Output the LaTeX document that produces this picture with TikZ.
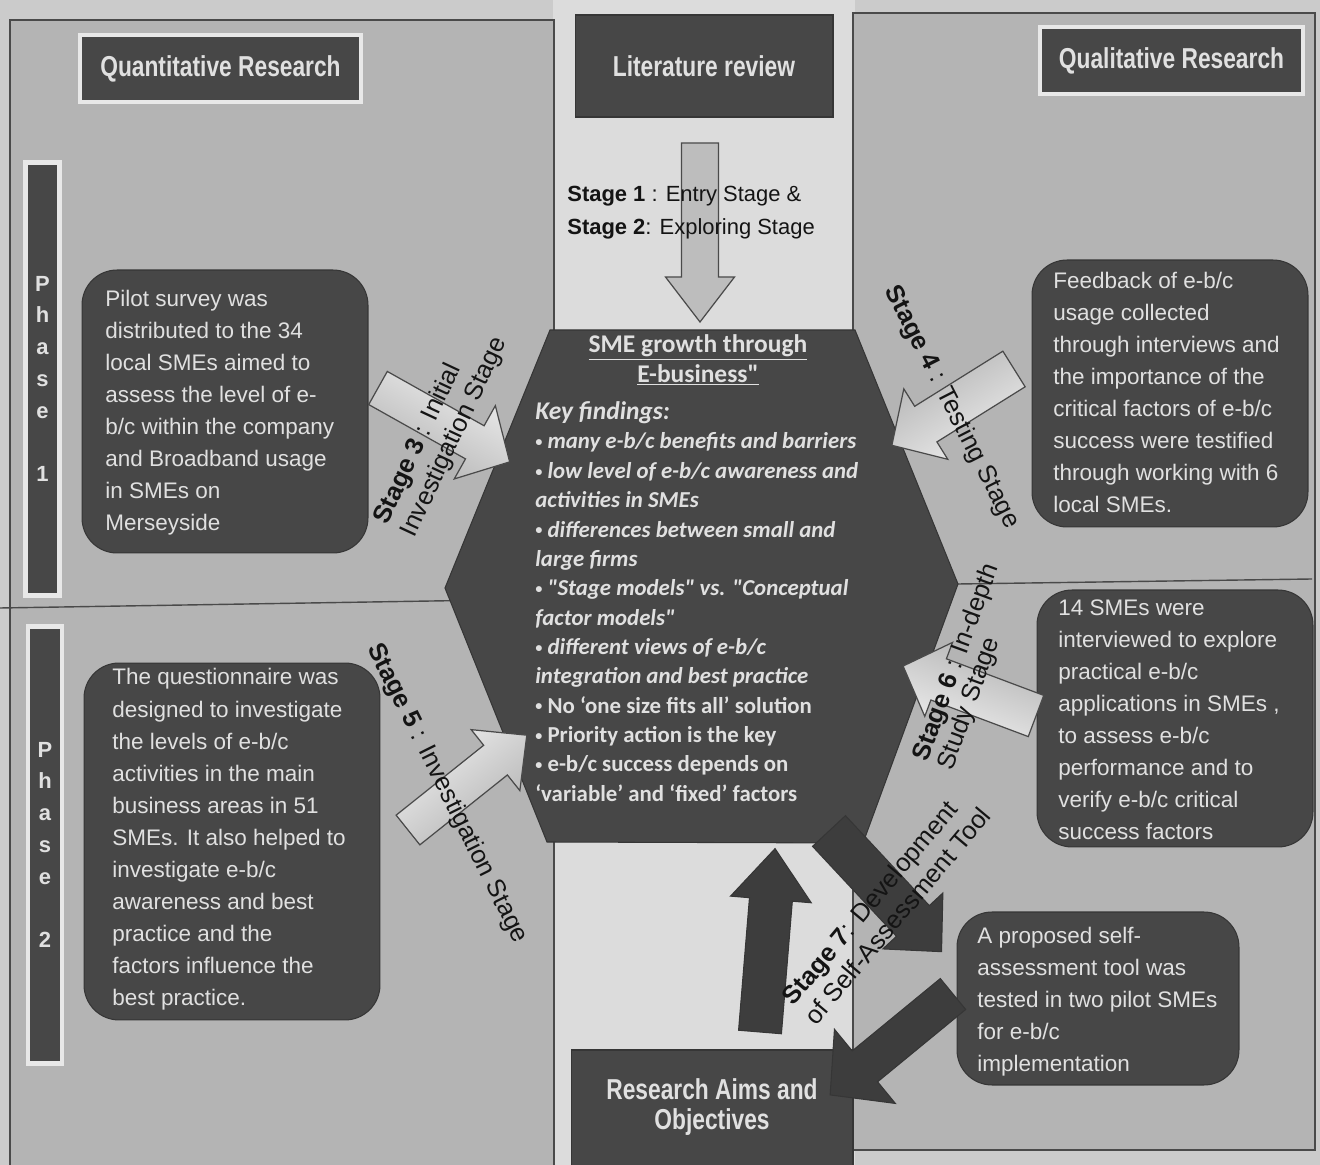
\documentclass[tikz,border=0pt]{standalone}
\usepackage{fontspec}
\setmainfont{Liberation Sans}
\newfontfamily\narrowfont[FakeStretch=0.79]{Liberation Sans}
\newfontfamily\hexfont{Carlito}
\usetikzlibrary{calc}

\definecolor{outerbg}{HTML}{CBCBCB}
\definecolor{midbg}{HTML}{DCDCDC}
\definecolor{panelbg}{HTML}{B4B4B4}
\definecolor{rule}{HTML}{4A4A4A}
\definecolor{boxfill}{HTML}{474747}
\definecolor{boxedge}{HTML}{363636}
\definecolor{boxtext}{HTML}{E0E0E0}
\definecolor{frameline}{HTML}{E8E8E8}
\definecolor{arrowdark}{HTML}{3D3D3D}
\definecolor{arrowtail}{HTML}{EEEEEE}
\definecolor{arrowhead}{HTML}{B2B2B2}
\definecolor{arrowmid}{HTML}{BDBDBD}
\definecolor{ink}{HTML}{141414}

% small bullet used in the list of findings
\newcommand\dotmark{{\fontsize{8}{8}\selectfont\raisebox{0.15em}{•}}}

\tikzset{
  pics/blockarrow/.style n args={4}{code={%
    \path[pic actions] (0,-#2/2) -- ({#1-#4},-#2/2) -- ({#1-#4},-#3/2) -- (#1,0)
      -- ({#1-#4},#3/2) -- ({#1-#4},#2/2) -- (0,#2/2) -- cycle;}},
  titlebox/.style={fill=boxfill, draw=frameline, line width=2.6pt, text=boxtext,
    font=\narrowfont\bfseries\fontsize{16.4}{19.5}\selectfont, align=center, inner sep=0pt},
  headbox/.style={fill=boxfill, draw=boxedge, line width=0.6pt, text=boxtext,
    font=\narrowfont\bfseries\fontsize{16.4}{17.5}\selectfont, align=center, inner sep=0pt},
  phasebar/.style={fill=boxfill, draw=frameline, line width=2.6pt, text=boxtext,
    font=\bfseries\fontsize{12.5}{18.1}\selectfont, align=center, inner sep=0pt},
  notebox/.style={fill=boxfill, draw=boxedge, line width=0.6pt, rounded corners=0.7cm, inner sep=0pt},
  notetext/.style={text=boxtext, font=\fontsize{12.8}{18.25}\selectfont, align=left,
    anchor=west, inner sep=0pt},
  stagelabel/.style={text=ink, font=\fontsize{14.5}{17}\selectfont, align=left, inner sep=0pt},
  lightarrow/.style={left color=arrowtail, right color=arrowhead, shading angle=#1,
    draw=rule, line width=0.7pt},
  midarrow/.style={fill=arrowmid, draw=rule, line width=0.7pt},
  darkarrow/.style={fill=arrowdark, draw=boxedge, line width=0.6pt},
}

\begin{document}
\begin{tikzpicture}[x=0.02cm, y=-0.02cm]
\useasboundingbox (0,0) rectangle (1320,1165);

% backgrounds and the two research panels
\fill[outerbg] (0,0) rectangle (1320,1165);
\fill[midbg] (553,0) rectangle (855,1165);
\filldraw[fill=panelbg, draw=rule, line width=0.6pt] (10,20) rectangle (554,1175);
\filldraw[fill=panelbg, draw=rule, line width=0.6pt] (853,13) rectangle (1315,1150);
\draw[rule, line width=0.8pt] (0,608) -- (555,599);
\draw[rule, line width=0.8pt] (958,584) -- (1312,579);

% headings
\node[titlebox, minimum width=5.62cm, minimum height=1.34cm] (quant) at (220.5,68.5) {Quantitative Research};
\node[titlebox, minimum width=5.26cm, minimum height=1.34cm] (qual) at (1171.5,60.5) {Qualitative Research};
\node[headbox, minimum width=5.16cm, minimum height=2.04cm] (litrev) at (704,66) {Literature review};
\node[headbox, minimum width=5.64cm, minimum height=2.4cm] (aims) at (712,1110) {};
\node[text=boxtext, font=\narrowfont\bfseries\fontsize{16.4}{17.5}\selectfont, align=center, inner sep=0pt]
  (aimstext) at (712,1107) {Research Aims and\\Objectives};

% phase bars
\node[phasebar, minimum width=0.68cm, minimum height=8.66cm] (phase1) at (42.5,379) {P\\h\\a\\s\\e\\[18.1pt]1};
\node[phasebar, minimum width=0.68cm, minimum height=8.74cm] (phase2) at (45,845) {P\\h\\a\\s\\e\\[18.1pt]2};

% description boxes
\node[notebox, minimum width=5.72cm, minimum height=5.66cm] (pilot) at (225,411.5) {};
\node[notetext] (pilottext) at (105,412.5) {Pilot survey was\\distributed to the 34\\local SMEs  aimed to\\assess the level of e-\\b/c within the company\\and Broadband usage\\in SMEs on\\Merseyside};

\node[notebox, minimum width=5.92cm, minimum height=7.14cm] (quest) at (232,841.5) {};
\node[notetext] (questtext) at (112,839.5) {The questionnaire was\\designed to investigate\\the levels of e-b/c\\activities in the main\\business areas in 51\\SMEs. It also helped to\\investigate e-b/c\\awareness and best\\practice and  the\\factors influence the\\best practice.};

\node[notebox, minimum width=5.52cm, minimum height=5.34cm] (feedback) at (1170,393.5) {};
\node[notetext] (feedbacktext) at (1053,392.5) {Feedback of  e-b/c\\usage collected\\through interviews and\\the importance of the\\critical factors of e-b/c\\success were testified\\through working with 6\\local SMEs.};

\node[notebox, minimum width=5.52cm, minimum height=5.14cm] (interviews) at (1175,718.5) {};
\node[notetext] (interviewstext) at (1058,719.5) {14 SMEs were\\interviewed  to explore\\practical e-b/c\\applications in SMEs ,\\to assess e-b/c\\performance and to\\verify e-b/c critical\\success factors};

\node[notebox, minimum width=5.64cm, minimum height=3.46cm] (selftool) at (1098,998.5) {};
\node[notetext] (selftooltext) at (977,1002) {A proposed self-\\assessment tool was\\tested in two pilot SMEs\\for e-b/c\\implementation};

% central hexagon
\coordinate (hxa) at (550,330);
\coordinate (hxb) at (855,330);
\coordinate (hxc) at (958,584);
\coordinate (hxd) at (863,843);
\coordinate (hxe) at (547,842);
\coordinate (hxf) at (445,588);
\filldraw[fill=boxfill, draw=boxedge, line width=0.6pt] (hxa) -- (hxb) -- (hxc) -- (hxd) -- (hxe) -- (hxf) -- cycle;

% dark arrows of stage 7 and towards the aims
\pic[darkarrow, rotate=-47] at (829,831) {blockarrow={165}{45}{82}{42}};
\pic[darkarrow, rotate=85.3] at (760,1032) {blockarrow={184}{43}{81}{51}};
\pic[darkarrow, rotate=-140.6] at (953,994) {blockarrow={159}{40}{96}{45}};

% light stage arrows
\pic[midarrow, rotate=-90] at (700,143) {blockarrow={179}{37}{69}{45}};
\pic[lightarrow=-29.3, rotate=-29.3] at (378,388) {blockarrow={151}{38}{84}{40}};
\pic[lightarrow=-148, rotate=-148] at (1014,369) {blockarrow={144}{42}{83}{40}};
\pic[lightarrow=38.6, rotate=38.6] at (408,830) {blockarrow={152}{38}{78}{40}};
\pic[lightarrow=159.4, rotate=159.4] at (1036,716) {blockarrow={142}{44}{79}{38}};

% stage labels
\node[stagelabel, anchor=west, font=\fontsize{12.5}{18.7}\selectfont] (stage12) at (567,213)
  {\textbf{Stage 1} : Entry Stage \&\\\textbf{Stage 2}: Exploring Stage};
\node[stagelabel, rotate=65] (stage3) at (441,431) {\textbf{Stage 3} : Initial\\Investigation Stage};
\node[stagelabel, rotate=-63] (stage4) at (951.5,407.5) {\textbf{Stage 4} : Testing Stage};
\node[stagelabel, rotate=-63.5] (stage5) at (447,793.5) {\textbf{Stage 5} : Investigation Stage};
\node[stagelabel, rotate=70, font=\fontsize{14.5}{15}\selectfont] (stage6) at (969,667) {\textbf{Stage 6} : In-depth\\Study Stage};
\node[stagelabel, rotate=50] (stage7) at (886,906) {\textbf{Stage 7}: Development\\of Self-Assessment Tool};

% text of the hexagon
\node[text=boxtext, font=\hexfont\bfseries\fontsize{14.5}{17}\selectfont, align=center, inner sep=0pt]
  (hextitle) at (698,360) {\underline{SME growth through}\\\underline{E-business"}};
\node[text=boxtext, font=\hexfont\bfseries\fontsize{13}{16.7}\selectfont, align=left, anchor=west, inner sep=0pt]
  (findings) at (535,601.5) {%
  {\itshape\fontsize{14.5}{16.7}\selectfont Key findings:}\\
  \itshape \dotmark\ many e-b/c benefits and barriers\\
  \itshape \dotmark\ low level of e-b/c awareness and\\
  \itshape activities in SMEs\\
  \itshape \dotmark\ differences between small and\\
  \itshape large firms\\
  \itshape \dotmark\ "Stage models" vs. "Conceptual\\
  \itshape factor models"\\
  \itshape \dotmark\ different views of e-b/c\\
  \itshape integration and best practice\\
  \dotmark\ No ‘one size fits all’ solution\\
  \dotmark\ Priority action is the key\\
  \dotmark\ e-b/c success depends on\\
  ‘variable’ and ‘fixed’ factors};
\end{tikzpicture}
\end{document}
